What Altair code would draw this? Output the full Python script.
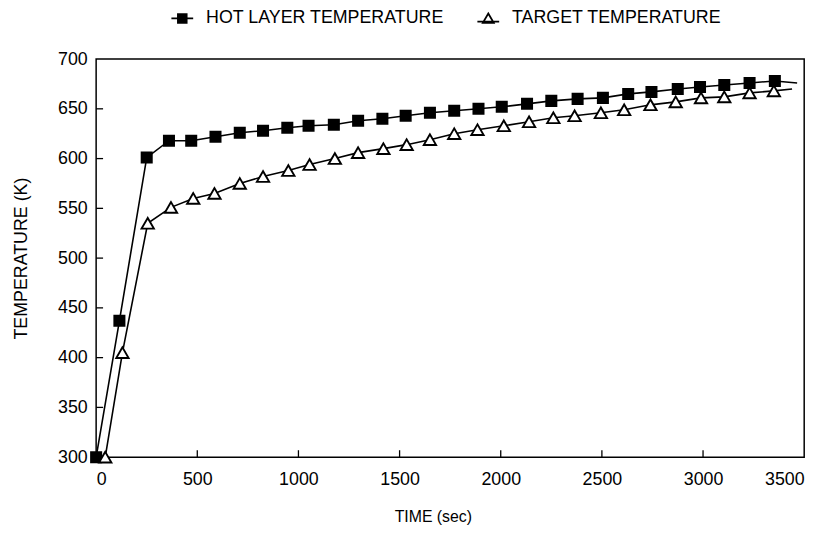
import altair as alt
import pandas as pd

# ---- data ----
series_names = ["HOT LAYER TEMPERATURE", "TARGET TEMPERATURE"]

hot_time = [0, 115, 250, 360, 470, 590, 710, 825, 945, 1050, 1175, 1295, 1415, 1530,
            1650, 1770, 1890, 2005, 2130, 2250, 2380, 2505, 2630, 2745, 2875, 2985,
            3105, 3230, 3355]
hot_temp = [300, 437, 601, 618, 618, 622, 626, 628, 631, 633, 634, 638, 640, 643,
            646, 648, 650, 652, 655, 658, 660, 661, 665, 667, 670, 672,
            674, 676, 678]

target_time = [45, 130, 255, 370, 480, 585, 710, 825, 950, 1055, 1180, 1295, 1420, 1535,
               1650, 1770, 1885, 2015, 2140, 2260, 2365, 2495, 2610, 2740, 2865, 2990,
               3105, 3230, 3350]
target_temp = [300, 405, 535, 551, 560, 565, 575, 582, 588, 594, 600, 606, 610, 614,
               619, 625, 629, 633, 637, 641, 643, 646, 649, 654, 657, 661,
               662, 666, 668]

# the curves run a little past the last marker
line_end_time = [3465, 3440]
line_end_temp = [676, 670]

x_tick_values = [0, 500, 1000, 1500, 2000, 2500, 3000, 3500]
y_tick_values = [300, 350, 400, 450, 500, 550, 600, 650, 700]
x_inner_ticks = [500, 1000, 1500, 2000, 2500, 3000]
y_inner_ticks = [350, 400, 450, 500, 550, 600, 650]

# ---- tables ----
pts = pd.DataFrame({
    "series": [series_names[0]] * len(hot_time) + [series_names[1]] * len(target_time),
    "time": hot_time + target_time,
    "temp": hot_temp + target_temp,
})
lines_df = pd.concat([
    pts,
    pd.DataFrame({"series": series_names, "time": line_end_time, "temp": line_end_temp}),
], ignore_index=True)
xt = pd.DataFrame({"time": x_inner_ticks})
yt = pd.DataFrame({"temp": y_inner_ticks})

W, H = 715, 402
FONT = "Liberation Sans"

x_enc = alt.X("time:Q",
              scale=alt.Scale(domain=[0, 3500], nice=False, zero=False),
              axis=alt.Axis(values=x_tick_values, title="TIME (sec)", labelPadding=14,
                            titlePadding=20, titleFontSize=16, titleX=340, format="d"))
y_enc = alt.Y("temp:Q",
              scale=alt.Scale(domain=[300, 700], nice=False, zero=False),
              axis=alt.Axis(values=y_tick_values, title="TEMPERATURE (K)", labelPadding=9,
                            titlePadding=27, titleFontSize=18, format="d"))

lines = alt.Chart(lines_df).mark_line(color="black", strokeWidth=1.6).encode(
    x=x_enc, y=y_enc, detail="series:N", order="time:Q")

points = alt.Chart(pts).mark_point(filled=True, stroke="black", strokeWidth=1.9,
                                   opacity=1).encode(
    x=x_enc, y=y_enc,
    shape=alt.Shape("series:N", scale=alt.Scale(domain=series_names,
                                                range=["square", "triangle-up"]), legend=None),
    fill=alt.Fill("series:N", scale=alt.Scale(domain=series_names,
                                              range=["black", "white"]), legend=None),
    size=alt.Size("series:N", scale=alt.Scale(domain=series_names, range=[105, 155]),
                  legend=None),
)

sq_path = "M-1,0H-0.4M0.4,0H1M-0.4,-0.4H0.4V0.4H-0.4Z"
tri_path = "M-1,0.3H1M0,-0.45L0.5,0.4H-0.5Z"

leg = dict(title=None, orient="none", legendX=75, legendY=-53,
           direction="horizontal", labelFontSize=18,
           labelFont=FONT, labelColor="black", labelOffset=12,
           columnPadding=29, symbolSize=484,
           symbolStrokeWidth=1.8, symbolStrokeColor="black",
           symbolOpacity=1, padding=0, labelLimit=0)

legend_layer = alt.Chart(pts).mark_point(filled=True, strokeWidth=1.8,
                                         opacity=0).encode(
    x=x_enc, y=y_enc,
    shape=alt.Shape("series:N", scale=alt.Scale(domain=series_names,
                                                range=[sq_path, tri_path]),
                    legend=alt.Legend(**leg)),
    fill=alt.Fill("series:N", scale=alt.Scale(domain=series_names,
                                              range=["black", "white"]),
                  legend=alt.Legend(**leg)),
    stroke=alt.Stroke("series:N", scale=alt.Scale(domain=series_names,
                                                  range=["black", "black"]),
                      legend=alt.Legend(**leg)),
)

x_ticks = alt.Chart(xt).mark_rule(color="black", strokeWidth=1.3).encode(
    x=x_enc, y=alt.value(H), y2=alt.value(H - 7))
y_ticks = alt.Chart(yt).mark_rule(color="black", strokeWidth=1.3).encode(
    y=y_enc, x=alt.value(0), x2=alt.value(7))

chart = alt.layer(lines, points, legend_layer, x_ticks, y_ticks).resolve_scale(
    shape="independent", fill="independent", size="independent", stroke="independent"
).properties(
    width=W, height=H,
    autosize=alt.AutoSizeParams(type="none"),
    padding={"left": 89, "top": 49, "right": 20, "bottom": 72},
).configure_view(
    stroke="black", strokeWidth=1.5
).configure_axis(
    domain=False, ticks=False, grid=False,
    labelFont=FONT, labelFontSize=18, labelColor="black",
    titleFont=FONT, titleFontWeight="normal", titleColor="black",
).configure_legend(
    labelFont=FONT
)

chart.save("out.html", embed_options={"renderer": "svg", "actions": False})
